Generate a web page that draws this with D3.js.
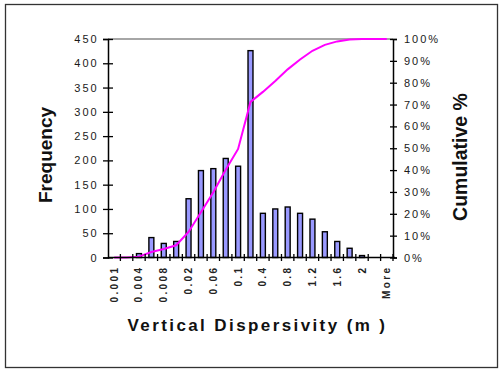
<!DOCTYPE html>
<html>
<head>
<meta charset="utf-8">
<script src="https://cdn.jsdelivr.net/npm/d3@7"></script>
<style>
  html, body { margin: 0; padding: 0; background: #fff; }
  svg { display: block; font-family: "Liberation Sans", Arial, sans-serif; }
</style>
</head>
<body>
<svg id="chart" width="503" height="375"></svg>
<script>
// Histogram bins (upper bin edges, m)
const categories = ["0.001","0.002","0.004","0.006","0.008","0.01","0.02","0.04","0.06","0.08",
                    "0.1","0.2","0.4","0.6","0.8","1","1.2","1.4","1.6","1.8","2","2.2","More"];
// Count in each bin
const frequency = [0,0,8,41,29,33,121,179,183,204,188,426,91,100,104,91,79,53,33,19,4,0,0];
// Cumulative share, percent
const cumulative = [0,0,0.4,2.5,3.9,5.6,11.7,20.7,29.9,40.2,49.7,71.2,75.8,80.8,86.1,90.6,94.6,97.3,98.9,99.8,100,100,100];
// Labelled bins on the category axis
const shownLabels = ["0.001","0.004","0.008","0.02","0.06","0.1","0.4","0.8","1.2","1.6","2","More"];
const freqTicks = [0,50,100,150,200,250,300,350,400,450];
const pctTicks = [0,10,20,30,40,50,60,70,80,90,100];

const svg = d3.select("#chart");
const L = 108, R = 393, T = 39, B = 257.5;

// outer chart frame
svg.append("rect")
  .attr("x", 5.5).attr("y", 4.5).attr("width", 492).attr("height", 363)
  .attr("fill", "#fff").attr("stroke", "#333").attr("stroke-width", 1.3);

const x = d3.scaleBand().domain(categories).range([L, R]).paddingInner(0).paddingOuter(0);
const y = d3.scaleLinear().domain([0, 450]).range([B, T]);
const yp = d3.scaleLinear().domain([0, 100]).range([B, T]);

// top border of the plot area
svg.append("line")
  .attr("x1", L).attr("x2", R).attr("y1", y(450)).attr("y2", y(450))
  .attr("stroke", "#888").attr("stroke-width", 1.5);

// bars
const bw = x.bandwidth() * 0.4;
svg.append("g").selectAll("rect")
  .data(categories.map((c, i) => ({ c, v: frequency[i] })))
  .join("rect")
  .attr("x", d => x(d.c) + (x.bandwidth() - bw) / 2)
  .attr("y", d => y(d.v))
  .attr("width", bw)
  .attr("height", d => B - y(d.v))
  .attr("fill", "#9999ff")
  .attr("stroke", "#000")
  .attr("stroke-width", d => d.v > 0 ? 1.4 : 0);

// cumulative line
const line = d3.line()
  .x((d, i) => x(categories[i]) + x.bandwidth() / 2)
  .y(d => yp(d));
svg.append("path")
  .datum(cumulative)
  .attr("d", line)
  .attr("fill", "none")
  .attr("stroke", "#ff00ff")
  .attr("stroke-width", 2);

const tickFont = g => g.selectAll("text")
  .attr("font-size", 11)
  .attr("letter-spacing", "2px")
  .attr("fill", "#1a1a1a");

// left frequency axis
const gl = svg.append("g").attr("transform", `translate(${L},0)`)
  .call(d3.axisLeft(y).tickValues(freqTicks).tickSize(5).tickPadding(9));
gl.select(".domain").attr("stroke", "#000").attr("stroke-width", 1.5);
gl.selectAll(".tick line").attr("x1", 5).attr("x2", -5).attr("stroke", "#000").attr("stroke-width", 1.3);
gl.call(tickFont).selectAll("text").attr("x", -9.3);

// right cumulative axis
const gr = svg.append("g").attr("transform", `translate(${R},0)`)
  .call(d3.axisRight(yp).tickValues(pctTicks).tickFormat(d => d + "%").tickSize(4).tickPadding(11));
gr.select(".domain").attr("stroke", "#000").attr("stroke-width", 1.5);
gr.selectAll(".tick line").attr("x1", -3).attr("x2", 4).attr("stroke", "#000").attr("stroke-width", 1.3);
gr.call(tickFont).selectAll("text").attr("x", 11);

// category axis with ticks at bin boundaries
const gx = svg.append("g");
gx.append("line")
  .attr("x1", L).attr("x2", R + 2).attr("y1", B).attr("y2", B)
  .attr("stroke", "#000").attr("stroke-width", 1.5);
gx.selectAll("line.tk")
  .data(categories)
  .join("line")
  .attr("class", "tk")
  .attr("x1", d => x(d) + x.bandwidth())
  .attr("x2", d => x(d) + x.bandwidth())
  .attr("y1", B - 3.5).attr("y2", B + 3.5)
  .attr("stroke", "#000").attr("stroke-width", 1.3);
gx.selectAll("text")
  .data(shownLabels)
  .join("text")
  .attr("transform", d => `translate(${x(d) + x.bandwidth() / 2},265.5) rotate(-90)`)
  .attr("dy", "0.35em")
  .attr("text-anchor", "end")
  .attr("font-size", 10)
  .attr("font-weight", "bold")
  .attr("letter-spacing", "2.4px")
  .attr("fill", "#222")
  .text(d => d);

// axis titles
svg.append("text")
  .attr("transform", "translate(52,155) rotate(-90)")
  .attr("text-anchor", "middle")
  .attr("font-size", 19).attr("font-weight", "bold").attr("fill", "#111")
  .text("Frequency");

svg.append("text")
  .attr("transform", "translate(467,157) rotate(-90)")
  .attr("text-anchor", "middle")
  .attr("font-size", 19.5).attr("font-weight", "bold").attr("fill", "#111")
  .text("Cumulative %");

svg.append("text")
  .attr("x", 257.5).attr("y", 331)
  .attr("text-anchor", "middle")
  .attr("font-size", 17).attr("font-weight", "bold").attr("fill", "#111")
  .attr("letter-spacing", "2.4px")
  .text("Vertical Dispersivity (m )");
</script>
</body>
</html>
